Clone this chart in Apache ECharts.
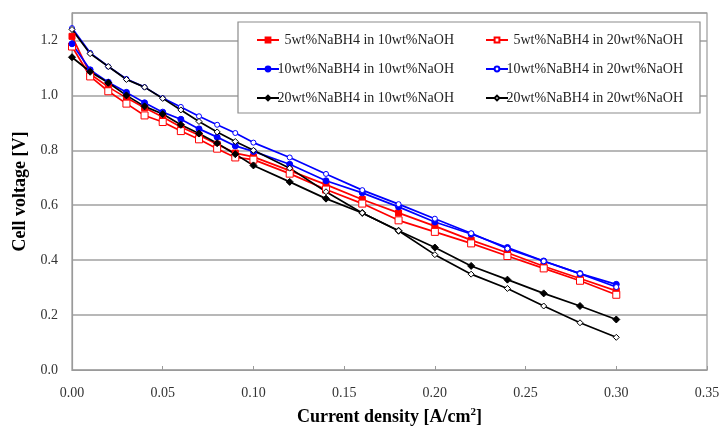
<!DOCTYPE html>
<html>
<head>
<meta charset="utf-8">
<script src="https://cdn.jsdelivr.net/npm/echarts@6/dist/echarts.min.js"></script>
<style>
  html, body { margin: 0; padding: 0; background: #fff; }
  #chart { width: 719px; height: 428px; }
</style>
</head>
<body>
<div id="chart"></div>
<script>
// Current density [A/cm2] at each measurement point
const currentDensity = [0, 0.01, 0.02, 0.03, 0.04, 0.05, 0.06, 0.07, 0.08, 0.09, 0.10,
  0.12, 0.14, 0.16, 0.18, 0.20, 0.22, 0.24, 0.26, 0.28, 0.30];

// Cell voltage [V] for each fuel composition
const v5in10 = [1.215, 1.078, 1.031, 0.991, 0.955, 0.921, 0.885, 0.855, 0.822, 0.790, 0.776,
  0.726, 0.675, 0.621, 0.572, 0.524, 0.473, 0.427, 0.378, 0.333, 0.288];
const v5in20 = [1.178, 1.069, 1.015, 0.970, 0.927, 0.903, 0.870, 0.840, 0.806, 0.774, 0.766,
  0.715, 0.657, 0.606, 0.545, 0.503, 0.461, 0.415, 0.370, 0.325, 0.274];
const v10in10 = [1.188, 1.093, 1.048, 1.011, 0.973, 0.939, 0.913, 0.878, 0.848, 0.816, 0.796,
  0.749, 0.689, 0.645, 0.594, 0.539, 0.495, 0.446, 0.397, 0.351, 0.312];
const v10in20 = [1.245, 1.155, 1.105, 1.060, 1.030, 0.990, 0.958, 0.924, 0.893, 0.863, 0.828,
  0.774, 0.714, 0.655, 0.604, 0.551, 0.498, 0.442, 0.396, 0.351, 0.302];
const v20in10 = [1.139, 1.086, 1.046, 1.000, 0.960, 0.932, 0.893, 0.861, 0.826, 0.786, 0.745,
  0.685, 0.624, 0.572, 0.507, 0.446, 0.379, 0.329, 0.279, 0.233, 0.184];
const v20in20 = [1.240, 1.152, 1.105, 1.058, 1.030, 0.989, 0.947, 0.905, 0.867, 0.832, 0.800,
  0.735, 0.649, 0.572, 0.507, 0.420, 0.349, 0.297, 0.233, 0.172, 0.119];

const seriesNames = [
  '5wt%NaBH4 in 10wt%NaOH', '5wt%NaBH4 in 20wt%NaOH',
  '10wt%NaBH4 in 10wt%NaOH', '10wt%NaBH4 in 20wt%NaOH',
  '20wt%NaBH4 in 10wt%NaOH', '20wt%NaBH4 in 20wt%NaOH'
];

const xTicks = { min: 0, max: 0.35, interval: 0.05 };
const yTicks = { min: 0, max: 1.3, interval: 0.2 };

const serif = 'Liberation Serif';

function pairs(values) {
  return currentDensity.map((x, i) => [x, values[i]]);
}

function makeSeries(name, values, color, symbol, hollow, size) {
  return {
    name: name,
    type: 'line',
    data: pairs(values),
    symbol: symbol,
    symbolSize: size,
    showAllSymbol: true,
    lineStyle: { color: color, width: 1.7 },
    itemStyle: {
      color: hollow ? '#ffffff' : color,
      borderColor: color,
      borderWidth: 1
    },
    emphasis: { disabled: true },
    z: 2
  };
}

const legendRich = {
  a: { width: 170, align: 'right', fontFamily: serif, fontSize: 14, color: '#222' }
};

const chart = echarts.init(document.getElementById('chart'), null, { renderer: 'canvas' });

chart.setOption({
  animation: false,
  backgroundColor: '#ffffff',
  grid: {
    left: 72, right: 12, top: 13, bottom: 58,
    show: true, borderColor: '#9a9a9a', borderWidth: 1.2,
    containLabel: false,
    outerBoundsMode: 'none'
  },
  graphic: [{
    type: 'rect',
    shape: { x: 238, y: 22, width: 462, height: 91 },
    style: { fill: '#ffffff', stroke: '#8c8c8c', lineWidth: 1.2 },
    z: 3
  }],
  legend: [
    {
      data: [seriesNames[0], seriesNames[2], seriesNames[4]],
      orient: 'vertical',
      left: 251, top: 27,
      itemGap: 13,
      itemWidth: 22, itemHeight: 6,
      formatter: n => '{a|' + n + '}',
      textStyle: { rich: legendRich, height: 16, lineHeight: 16 },
      z: 4
    },
    {
      data: [seriesNames[1], seriesNames[3], seriesNames[5]],
      orient: 'vertical',
      left: 480, top: 27,
      itemGap: 13,
      itemWidth: 22, itemHeight: 6,
      formatter: n => '{a|' + n + '}',
      textStyle: { rich: legendRich, height: 16, lineHeight: 16 },
      z: 4
    }
  ],
  xAxis: {
    type: 'value',
    min: xTicks.min, max: xTicks.max, interval: xTicks.interval,
    name: '{t|Current density [A/cm}{s|2}{t|]}',
    nameLocation: 'middle',
    nameGap: 37,
    nameTextStyle: {
      rich: {
        t: { fontFamily: serif, fontSize: 18, fontWeight: 'bold', color: '#000' },
        s: { fontFamily: serif, fontSize: 11, fontWeight: 'bold', color: '#000', verticalAlign: 'top', padding: [0, 0, 10, 0] }
      }
    },
    axisLine: { lineStyle: { color: '#9a9a9a', width: 1.2 } },
    axisTick: { inside: true, length: 4, lineStyle: { color: '#9a9a9a' } },
    axisLabel: {
      margin: 16,
      fontFamily: serif, fontSize: 14, color: '#333',
      formatter: v => v.toFixed(2)
    },
    splitLine: { show: false }
  },
  yAxis: {
    type: 'value',
    min: yTicks.min, max: yTicks.max, interval: yTicks.interval,
    name: 'Cell voltage [V]',
    nameLocation: 'middle',
    nameGap: 42,
    nameTextStyle: { fontFamily: serif, fontSize: 18, fontWeight: 'bold', color: '#000' },
    axisLine: { show: true, lineStyle: { color: '#9a9a9a', width: 1.2 } },
    axisTick: { show: false },
    axisLabel: {
      margin: 14,
      fontFamily: serif, fontSize: 14, color: '#333',
      showMaxLabel: false,
      formatter: v => v.toFixed(1)
    },
    splitLine: { show: true, lineStyle: { color: '#a0a0a0', width: 1.5 } }
  },
  series: [
    makeSeries(seriesNames[0], v5in10, '#ff0000', 'rect', false, 6),
    makeSeries(seriesNames[1], v5in20, '#ff0000', 'rect', true, 7),
    makeSeries(seriesNames[2], v10in10, '#0000ff', 'circle', false, 6),
    makeSeries(seriesNames[3], v10in20, '#0000ff', 'circle', true, 5),
    makeSeries(seriesNames[4], v20in10, '#000000', 'diamond', false, 7),
    makeSeries(seriesNames[5], v20in20, '#000000', 'diamond', true, 6)
  ]
});
</script>
</body>
</html>
